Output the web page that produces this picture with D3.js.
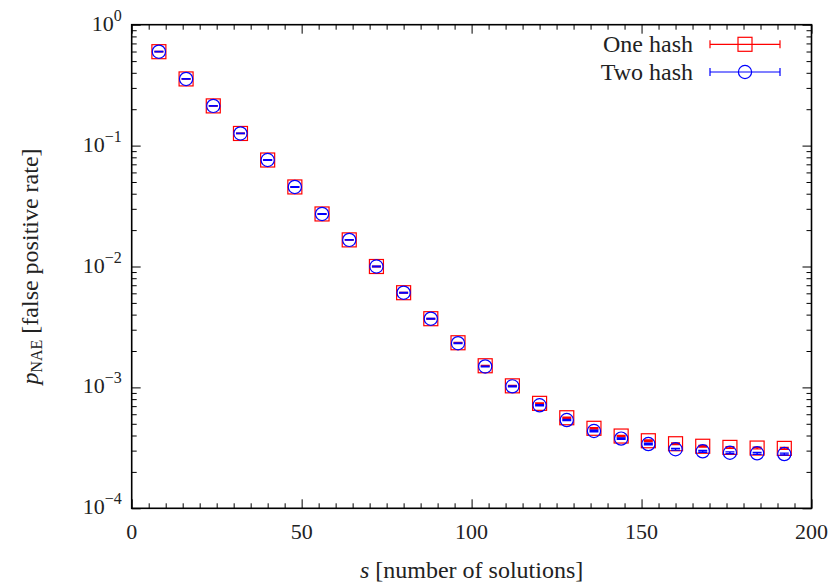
<!DOCTYPE html>
<html>
<head>
<meta charset="utf-8">
<script src="https://cdn.jsdelivr.net/npm/d3@7"></script>
<style>
  body { margin: 0; background: #fff; }
  text { font-family: "Liberation Serif", "DejaVu Serif", serif; fill: #222; }
</style>
</head>
<body>
<div id="chart"></div>
<script>
// number of solutions
var sValues = [8, 16, 24, 32, 40, 48, 56, 64, 72, 80, 88, 96, 104, 112, 120, 128, 136, 144, 152, 160, 168, 176, 184, 192];

// false positive rate, one hash function
var oneHash = [0.598, 0.356, 0.213, 0.126, 0.076, 0.0455, 0.0272, 0.0166, 0.0100, 0.00607, 0.0037, 0.00234,
               0.00151, 0.00103, 0.000738, 0.000561, 0.000459, 0.000396, 0.000362, 0.000342, 0.000326, 0.000319, 0.000315, 0.000313];
var oneErr  = [0.002, 0.0012, 0.0008, 0.0005, 0.0003, 0.0002, 0.00012, 0.00008, 0.00005, 0.00003, 0.00002, 0.000014,
               0.00001, 0.000008, 0.000007, 0.000006, 0.000006, 0.000005, 0.000005, 0.000005, 0.000005, 0.000005, 0.000005, 0.000005];

// false positive rate, two hash functions
var twoHash = [0.598, 0.356, 0.213, 0.126, 0.076, 0.0455, 0.0272, 0.0166, 0.0100, 0.00607, 0.0037, 0.00232,
               0.00149, 0.00102, 0.000711, 0.000537, 0.000436, 0.000377, 0.000340, 0.000308, 0.000296, 0.000288, 0.000285, 0.000281];
var twoErr  = oneErr;

var xTicks = [0, 50, 100, 150, 200];
var yTicks = [0, -1, -2, -3, -4];   // exponents of ten

var width = 831, height = 584;
var margin = {top: 24.7, right: 19.5, bottom: 75.7, left: 131.7};

var svg = d3.select("#chart").append("svg")
    .attr("width", width)
    .attr("height", height);

var x = d3.scaleLinear()
    .domain([0, 200])
    .range([margin.left, width - margin.right]);

var y = d3.scaleLog()
    .domain([1e-4, 1])
    .range([height - margin.bottom, margin.top]);

var x0 = x.range()[0], x1 = x.range()[1],
    y0 = y.range()[0], y1 = y.range()[1];

// minor ticks
var xMinor = d3.range(0, 201, 5).filter(function(d) { return d % 50 != 0; });
var yMinor = y.ticks().filter(function(d) { return Math.abs(Math.log10(d) - Math.round(Math.log10(d))) > 1e-6; });
var yMajor = yTicks.map(function(e) { return Math.pow(10, e); });

function tickGroup(axis, tx, ty) {
  svg.append("g")
      .attr("transform", "translate(" + tx + "," + ty + ")")
      .call(axis)
      .call(function(g) {
        g.select(".domain").remove();
        g.selectAll("line").attr("stroke", "#000").attr("stroke-width", 1);
      });
}

tickGroup(d3.axisBottom(x).tickValues(xTicks).tickSize(-9).tickFormat(""), 0, y0);
tickGroup(d3.axisBottom(x).tickValues(xMinor).tickSize(-5).tickFormat(""), 0, y0);
tickGroup(d3.axisTop(x).tickValues(xTicks).tickSize(-9).tickFormat(""), 0, y1);
tickGroup(d3.axisTop(x).tickValues(xMinor).tickSize(-5).tickFormat(""), 0, y1);
tickGroup(d3.axisLeft(y).tickValues(yMajor).tickSize(-9).tickFormat(""), x0, 0);
tickGroup(d3.axisLeft(y).tickValues(yMinor).tickSize(-5).tickFormat(""), x0, 0);
tickGroup(d3.axisRight(y).tickValues(yMajor).tickSize(-9).tickFormat(""), x1, 0);
tickGroup(d3.axisRight(y).tickValues(yMinor).tickSize(-5).tickFormat(""), x1, 0);

// frame
svg.append("rect")
    .attr("x", x0).attr("y", y1)
    .attr("width", x1 - x0).attr("height", y0 - y1)
    .attr("fill", "none")
    .attr("stroke", "#000")
    .attr("stroke-width", 1.6);

// tick labels
svg.append("g").selectAll("text")
  .data(xTicks)
  .enter().append("text")
    .attr("x", function(d) { return x(d); })
    .attr("y", y0 + 31)
    .attr("text-anchor", "middle")
    .attr("font-size", 22)
    .text(function(d) { return d; });

var yl = svg.append("g").selectAll("text")
  .data(yTicks)
  .enter().append("text")
    .attr("x", x0 - 10)
    .attr("y", function(d) { return y(Math.pow(10, d)) + 6; })
    .attr("text-anchor", "end")
    .attr("font-size", 22);
yl.append("tspan").text("10");
yl.append("tspan")
    .attr("dy", -10)
    .attr("font-size", 16)
    .text(function(d) { return d == 0 ? "0" : "\u2212" + (-d); });

// axis titles
var xt = svg.append("text")
    .attr("x", (x0 + x1) / 2)
    .attr("y", height - 6)
    .attr("text-anchor", "middle")
    .attr("font-size", 24);
xt.append("tspan").attr("font-style", "italic").text("s");
xt.append("tspan").text(" [number of solutions]");

var yt = svg.append("text")
    .attr("transform", "translate(38," + ((y0 + y1) / 2) + ") rotate(-90)")
    .attr("text-anchor", "middle")
    .attr("font-size", 24);
yt.append("tspan").attr("font-style", "italic").text("p");
yt.append("tspan").attr("dy", 4).attr("font-size", 16).text("NAE");
yt.append("tspan").attr("dy", -4).text(" [false positive rate]");

// series
var series = [
  {name: "One hash", values: oneHash, err: oneErr, color: "#ff0000", shape: "square"},
  {name: "Two hash", values: twoHash, err: twoErr, color: "#0000ff", shape: "circle"}
];

var cap = 4.5;

function drawMarker(g, shape, color) {
  if (shape == "square") {
    g.append("rect")
        .attr("x", -7).attr("y", -7)
        .attr("width", 14).attr("height", 14)
        .attr("fill", "none")
        .attr("stroke", color)
        .attr("stroke-width", 1.2);
  } else {
    g.append("circle")
        .attr("r", 6.6)
        .attr("fill", "none")
        .attr("stroke", color)
        .attr("stroke-width", 1.2);
  }
}

series.forEach(function(s) {
  var pts = svg.append("g").selectAll("g")
    .data(sValues.map(function(v, i) { return {x: v, y: s.values[i], e: s.err[i]}; }))
    .enter().append("g");

  // error bars
  pts.append("path")
      .attr("fill", "none")
      .attr("stroke", s.color)
      .attr("stroke-width", 1.4)
      .attr("d", function(d) {
        var cx = x(d.x), lo = y(d.y - d.e), hi = y(d.y + d.e);
        return "M" + cx + "," + lo + "V" + hi +
               "M" + (cx - cap) + "," + lo + "H" + (cx + cap) +
               "M" + (cx - cap) + "," + hi + "H" + (cx + cap);
      });

  pts.append("g")
      .attr("transform", function(d) { return "translate(" + x(d.x) + "," + y(d.y) + ")"; })
      .each(function() { drawMarker(d3.select(this), s.shape, s.color); });
});

// legend
var legend = svg.append("g").selectAll("g")
  .data(series)
  .enter().append("g")
    .attr("transform", function(d, i) { return "translate(0," + (44.3 + i * 27.7) + ")"; });

legend.append("text")
    .attr("x", 693)
    .attr("y", 7.5)
    .attr("text-anchor", "end")
    .attr("font-size", 24)
    .text(function(d) { return d.name; });

legend.append("path")
    .attr("fill", "none")
    .attr("stroke", function(d) { return d.color; })
    .attr("stroke-width", 1.2)
    .attr("d", "M710,0H780M710,-4V4M780,-4V4");

legend.append("g")
    .attr("transform", "translate(745,0)")
    .each(function(d) { drawMarker(d3.select(this), d.shape, d.color); });
</script>
</body>
</html>
